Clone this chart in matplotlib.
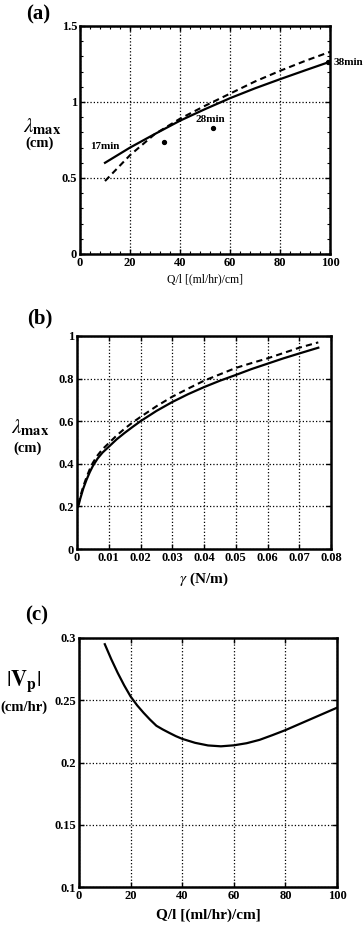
import numpy as np
import matplotlib
matplotlib.use("Agg")
import matplotlib.pyplot as plt
from matplotlib.ticker import MultipleLocator

plt.rcParams['font.family'] = ['Liberation Serif', 'DejaVu Serif']
plt.rcParams['mathtext.fontset'] = 'stix'

# (a) lambda_max vs Q/l
qa = [10, 20, 30, 40, 50, 60, 70, 80, 90, 100]
lam_a_solid = [0.60, 0.70, 0.79, 0.877, 0.953, 1.025, 1.09, 1.15, 1.208, 1.265]
lam_a_dash = [0.48, 0.65, 0.79, 0.89, 0.975, 1.055, 1.135, 1.205, 1.27, 1.33]
pts_q = [33.5, 53, 99]
pts_lam = [0.74, 0.83, 1.26]

# (b) lambda_max vs gamma
gam = [0.0004, 0.001, 0.002, 0.003, 0.004, 0.005, 0.0065, 0.008, 0.01, 0.0125,
       0.015, 0.0175, 0.02, 0.025, 0.03, 0.035, 0.04, 0.045, 0.05, 0.055, 0.06,
       0.065, 0.07, 0.076]
lam_b_solid = [0.20, 0.235, 0.285, 0.325, 0.36, 0.39, 0.425, 0.452, 0.48, 0.515,
               0.545, 0.573, 0.60, 0.648, 0.69, 0.727, 0.76, 0.79, 0.817, 0.845,
               0.87, 0.895, 0.918, 0.945]
lam_b_dash = [0.21, 0.245, 0.295, 0.337, 0.374, 0.405, 0.44, 0.468, 0.497, 0.533,
              0.565, 0.594, 0.62, 0.67, 0.715, 0.753, 0.79, 0.82, 0.85, 0.873,
              0.895, 0.92, 0.945, 0.97]

# (c) |Vp| vs Q/l
qc = [10, 12.5, 15, 17.5, 20, 22.5, 25, 27.5, 30, 32.5, 35, 37.5, 40, 45, 50, 55,
      60, 65, 70, 75, 80, 85, 90, 95, 100]
vp = [0.295, 0.283, 0.272, 0.262, 0.253, 0.246, 0.240, 0.2345, 0.2295, 0.2265,
      0.2238, 0.2212, 0.219, 0.2158, 0.2137, 0.213, 0.2138, 0.2155, 0.2182, 0.222,
      0.226, 0.2305, 0.235, 0.2395, 0.244]

W, H = 363, 926
fig = plt.figure(figsize=(W / 100, H / 100), dpi=100)


def box(l, t, r, b):
    return [l / W, 1 - b / H, (r - l) / W, (b - t) / H]


def style(ax):
    ax.grid(True, which='major', color='black', linestyle=':', linewidth=0.9)
    ax.tick_params(which='both', direction='in', top=True, right=True,
                   labelsize=9, pad=2)
    ax.tick_params(which='major', length=3.5, width=1)
    ax.tick_params(which='minor', length=2, width=0.8)
    for lab in ax.get_xticklabels() + ax.get_yticklabels():
        lab.set_fontweight('bold')
    for s in ax.spines.values():
        s.set_linewidth(1.8)


# panel (a)
ax1 = fig.add_axes(box(80, 26, 330, 254))
ax1.plot(qa, lam_a_solid, color='black', lw=1.6)
ax1.plot(qa, lam_a_dash, color='black', lw=1.5, dashes=(3, 2))
ax1.plot(pts_q, pts_lam, 'o', color='black', ms=2.8)
ax1.set_xlim(0, 100)
ax1.set_ylim(0, 1.5)
ax1.set_xticks([0, 20, 40, 60, 80, 100])
ax1.set_yticks([0, 0.5, 1, 1.5], ['0', '0.5', '1', '1.5'])
ax1.xaxis.set_minor_locator(MultipleLocator(4))
ax1.yaxis.set_minor_locator(MultipleLocator(0.1))
style(ax1)
ax1.text(16, 0.706, '17min', fontsize=8, fontweight='bold', ha='right', va='center')
ax1.text(52, 0.886, '28min', fontsize=8, fontweight='bold', ha='center', va='center')
ax1.text(101.5, 1.26, '38min', fontsize=8, fontweight='bold', ha='left',
         va='center', clip_on=False)
ax1.set_xlabel('Q/l [(ml/hr)/cm]', fontsize=8.5, labelpad=3)
fig.text(26 / W, 1 - 14 / H, '(a)', fontsize=15, fontweight='bold', va='center')
fig.text(42 / W, 1 - 127 / H, r'$\lambda_{\mathrm{\mathbf{max}}}$', fontsize=15,
         ha='center', va='center')
fig.text(40 / W, 1 - 143 / H, '(cm)', fontsize=10.5, fontweight='bold',
         ha='center', va='center')

# panel (b)
ax2 = fig.add_axes(box(77, 336, 331, 549))
ax2.plot(gam, lam_b_solid, color='black', lw=1.6)
ax2.plot(gam, lam_b_dash, color='black', lw=1.5, dashes=(3, 2))
ax2.set_xlim(0, 0.08)
ax2.set_ylim(0, 1)
ax2.set_xticks(np.arange(0, 0.081, 0.01), ['0', '0.01', '0.02', '0.03', '0.04',
                                           '0.05', '0.06', '0.07', '0.08'])
ax2.set_yticks([0, 0.2, 0.4, 0.6, 0.8, 1], ['0', '0.2', '0.4', '0.6', '0.8', '1'])
style(ax2)
ax2.set_xlabel(r'$\gamma$ (N/m)', fontsize=11, fontweight='bold', labelpad=5)
fig.text(27 / W, 1 - 318 / H, '(b)', fontsize=15, fontweight='bold', va='center')
fig.text(30 / W, 1 - 428 / H, r'$\lambda_{\mathrm{\mathbf{max}}}$', fontsize=15,
         ha='center', va='center')
fig.text(28 / W, 1 - 448 / H, '(cm)', fontsize=10.5, fontweight='bold',
         ha='center', va='center')

# panel (c)
ax3 = fig.add_axes(box(79, 638, 337, 887))
ax3.plot(qc, vp, color='black', lw=1.6)
ax3.set_xlim(0, 100)
ax3.set_ylim(0.1, 0.3)
ax3.set_xticks([0, 20, 40, 60, 80, 100])
ax3.set_yticks([0.1, 0.15, 0.2, 0.25, 0.3], ['0.1', '0.15', '0.2', '0.25', '0.3'])
style(ax3)
ax3.set_xlabel('Q/l [(ml/hr)/cm]', fontsize=11, fontweight='bold', labelpad=5)
fig.text(25 / W, 1 - 615 / H, '(c)', fontsize=15, fontweight='bold', va='center')
fig.text(24 / W, 1 - 681 / H, r'$|\mathbf{V}_{\mathbf{p}}|$', fontsize=16,
         ha='center', va='center')
fig.text(24 / W, 1 - 707 / H, '(cm/hr)', fontsize=10.5, fontweight='bold',
         ha='center', va='center')

fig.savefig('out.png', dpi=100)
